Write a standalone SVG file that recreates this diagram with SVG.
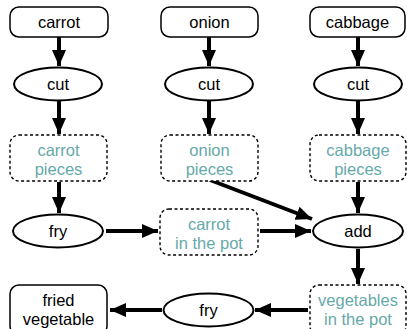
<svg xmlns="http://www.w3.org/2000/svg" width="407" height="329" viewBox="0 0 407 329">
<defs>
<marker id="ah" viewBox="0 0 16 14" refX="16" refY="7" markerWidth="16" markerHeight="14" markerUnits="userSpaceOnUse" orient="auto"><path d="M0,0 L16,7 L0,14 Z" fill="#000"/></marker>
<style>
.n{fill:#fff;stroke:#000;stroke-width:1.5}
.e{fill:#fff;stroke:#000;stroke-width:2}
.d{fill:#fff;stroke:#000;stroke-width:1.4;stroke-dasharray:3,2.5}
.t{font-family:"Liberation Sans",Arial,sans-serif;font-size:16.5px;text-anchor:middle;fill:#000}
.tt{font-family:"Liberation Sans",Arial,sans-serif;font-size:16.5px;text-anchor:middle;fill:#66a9a9}
.c{stroke:#000;stroke-width:4;fill:none;marker-end:url(#ah)}
</style>
</defs>
<rect width="407" height="329" fill="#fff"/>
<g id="connectors">
<line class="c" x1="59" y1="37" x2="59" y2="66"/>
<line class="c" x1="209" y1="37" x2="209" y2="66"/>
<line class="c" x1="358" y1="37" x2="358" y2="66"/>
<line class="c" x1="59" y1="101" x2="59" y2="134"/>
<line class="c" x1="209" y1="101" x2="209" y2="134"/>
<line class="c" x1="358" y1="101" x2="358" y2="134"/>
<line class="c" x1="59" y1="182" x2="59" y2="213"/>
<line class="c" x1="358" y1="182" x2="358" y2="213"/>
<line class="c" x1="210" y1="180" x2="312" y2="219"/>
<line class="c" x1="106" y1="231" x2="158" y2="231"/>
<line class="c" x1="260" y1="231" x2="311" y2="231"/>
<line class="c" x1="358" y1="249" x2="358" y2="284"/>
<line class="c" x1="308" y1="310" x2="255" y2="310"/>
<line class="c" x1="162" y1="310" x2="110" y2="310"/>
</g>
<g id="carrot"><rect class="n" x="10" y="7" width="98" height="30" rx="9"/><text class="t" x="59" y="28">carrot</text></g>
<g id="onion"><rect class="n" x="161" y="7" width="97" height="30" rx="9"/><text class="t" x="209.5" y="28">onion</text></g>
<g id="cabbage"><rect class="n" x="310" y="7" width="95" height="30" rx="9"/><text class="t" x="357.5" y="28">cabbage</text></g>
<g id="cut1"><ellipse class="e" cx="58" cy="84" rx="44" ry="16.5"/><text class="t" x="58" y="90">cut</text></g>
<g id="cut2"><ellipse class="e" cx="209" cy="84" rx="44" ry="16.5"/><text class="t" x="209" y="90">cut</text></g>
<g id="cut3"><ellipse class="e" cx="358" cy="84" rx="44" ry="16.5"/><text class="t" x="358" y="90">cut</text></g>
<g id="carrotpieces"><rect class="d" x="10" y="135" width="97" height="46" rx="9"/><text class="tt" x="58.5" y="156">carrot</text><text class="tt" x="58.5" y="175">pieces</text></g>
<g id="onionpieces"><rect class="d" x="161" y="135" width="97" height="46" rx="9"/><text class="tt" x="209.5" y="156">onion</text><text class="tt" x="209.5" y="175">pieces</text></g>
<g id="cabbagepieces"><rect class="d" x="310" y="135" width="96" height="46" rx="9"/><text class="tt" x="358" y="156">cabbage</text><text class="tt" x="358" y="175">pieces</text></g>
<g id="fry1"><ellipse class="e" cx="58" cy="231" rx="45" ry="16.5"/><text class="t" x="58" y="237">fry</text></g>
<g id="carrotpot"><rect class="d" x="160" y="209" width="98" height="46" rx="9"/><text class="tt" x="209" y="230">carrot</text><text class="tt" x="209" y="249">in the pot</text></g>
<g id="add"><ellipse class="e" cx="358" cy="231" rx="45" ry="16.5"/><text class="t" x="358" y="237">add</text></g>
<g id="vegpot"><rect class="d" x="310" y="285" width="96" height="50" rx="9"/><text class="tt" x="358" y="306">vegetables</text><text class="tt" x="358" y="325">in the pot</text></g>
<g id="fry2"><ellipse class="e" cx="208.5" cy="310" rx="45" ry="16.5"/><text class="t" x="208.5" y="316">fry</text></g>
<g id="friedveg"><rect class="n" x="10" y="285" width="97" height="50" rx="9"/><text class="t" x="58.5" y="306">fried</text><text class="t" x="58.5" y="325">vegetable</text></g>
</svg>
